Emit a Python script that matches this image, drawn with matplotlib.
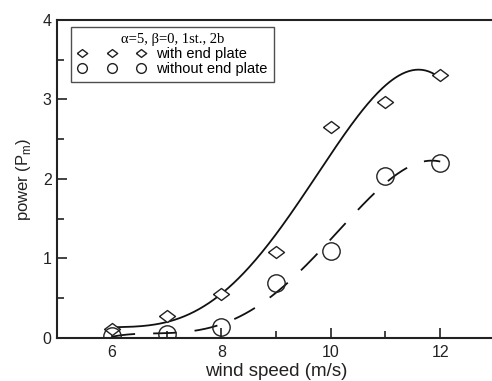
import matplotlib
matplotlib.use('Agg')
import matplotlib.pyplot as plt
from matplotlib.ticker import MultipleLocator
import numpy as np

# data
wind = [6, 7, 8, 9, 10, 11, 12]
with_plate = [0.11, 0.27, 0.55, 1.08, 2.65, 2.97, 3.31]
without_plate = [0.02, 0.05, 0.14, 0.69, 1.09, 2.03, 2.20]

plt.rcParams['font.family'] = ['Liberation Sans', 'DejaVu Sans']

fig = plt.figure(figsize=(4.92, 3.81), dpi=100)
ax = fig.add_axes([0.116, 0.113, 0.89, 0.835])

# smooth fitted curves through the points
xs = np.linspace(6, 12, 200)
fit_with = np.polyval(np.polyfit(wind, with_plate, 4), xs)
fit_without = np.polyval(np.polyfit(wind, without_plate, 4), xs)

ax.plot(xs, fit_with, color='#111111', lw=1.3)
ax.plot(xs, fit_without, color='#111111', lw=1.3, dashes=(13, 10))

# slightly flattened diamond like the original
wide_diamond = [(-1, 0), (0, 0.75), (1, 0), (0, -0.75), (-1, 0)]
ax.plot(wind, with_plate, marker=wide_diamond, ms=11.5, mfc='white', mec='#222222',
        mew=1.0, ls='none', label='with end plate')
ax.plot(wind, without_plate, 'o', ms=12.5, mfc='none', mec='#222222', mew=1.0,
        ls='none', label='without end plate')

ax.set_xlim(5, 13)
ax.set_ylim(0, 4)
ax.xaxis.set_major_locator(MultipleLocator(2))
ax.xaxis.set_minor_locator(MultipleLocator(1))
ax.yaxis.set_major_locator(MultipleLocator(1))
ax.yaxis.set_minor_locator(MultipleLocator(0.5))
ax.tick_params(which='both', direction='in', width=1.2, labelsize=11.5, colors='#222222')
ax.tick_params(which='major', length=7)
ax.tick_params(which='minor', length=5)
ax.tick_params(axis='x', pad=5)
ax.tick_params(axis='y', pad=4)
for s in ax.spines.values():
    s.set_linewidth(1.5)
    s.set_color('#222222')

ax.set_xlabel('wind speed (m/s)', fontsize=13.5, color='#222222', labelpad=2)
ax.set_ylabel('power (P$_\\mathregular{m}$)', fontsize=12, color='#222222', labelpad=7)

leg = ax.legend(loc='upper left', numpoints=3, fontsize=10.5, frameon=True,
                fancybox=False, edgecolor='#222222', borderpad=0.45,
                handletextpad=0.7, handlelength=4.65, labelspacing=0.05,
                bbox_to_anchor=(0.032, 0.978), borderaxespad=0,
                title='α=5, β=0, 1st., 2b',
                title_fontproperties={'family': 'Liberation Serif', 'size': 10.5})
leg.get_frame().set_linewidth(1.0)
leg.legend_handles[0].set_markersize(7.5)
leg.legend_handles[1].set_markersize(7)

fig.savefig('out.png', dpi=100)
